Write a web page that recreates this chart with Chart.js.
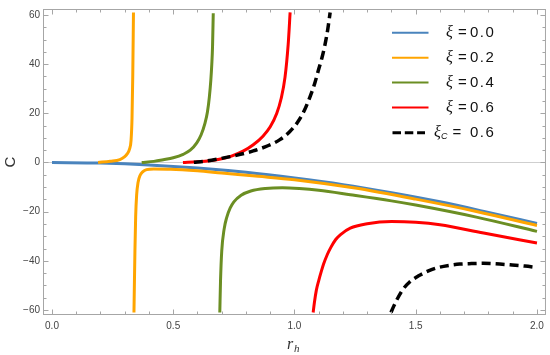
<!DOCTYPE html>
<html><head><meta charset="utf-8">
<script src="https://cdn.jsdelivr.net/npm/chart.js@4.4.1/dist/chart.umd.min.js"></script>
<style>html,body{margin:0;padding:0;background:#fff;}</style>
</head><body>
<canvas id="c" width="550" height="355"></canvas>
<script>
// ---------- data ----------
const xi00_r = [0, 0.2, 0.4, 0.6, 0.8, 1.0, 1.2, 1.4, 1.6, 1.8, 2.0];
const xi00_C = [0, -0.25, -1.0, -2.25, -4.0, -6.3, -9.0, -12.3, -16.0, -20.3, -24.8];

const xi02_upper_r = [0.19, 0.24, 0.28, 0.30, 0.31, 0.32, 0.326, 0.330, 0.333, 0.336];
const xi02_upper_C = [0, 0.5, 1.2, 2.4, 3.5, 5.5, 9, 18, 35, 61];
const xi02_lower_r = [0.338, 0.340, 0.342, 0.345, 0.349, 0.355, 0.363, 0.375, 0.39, 0.42, 0.49, 0.6, 0.7, 0.85, 1.0, 1.25, 1.5, 1.75, 2.0];
const xi02_lower_C = [-61, -48, -36, -22, -13.3, -8, -5.3, -3.7, -2.9, -2.6, -2.7, -3.4, -4.3, -5.6, -7.0, -10.4, -14.9, -19.9, -25.6];

const xi04_upper_r = [0.37, 0.42, 0.459, 0.50, 0.541, 0.57, 0.597, 0.615, 0.631, 0.641, 0.649, 0.655, 0.659, 0.662, 0.665];
const xi04_upper_C = [0, 0.45, 1.1, 1.9, 3.3, 5.0, 8.0, 11.3, 16, 20.5, 26.7, 33.5, 40, 47, 60.7];
const xi04_lower_r = [0.692, 0.695, 0.70, 0.71, 0.72, 0.735, 0.75, 0.78, 0.82, 0.88, 0.95, 1.02, 1.1, 1.23, 1.4, 1.5, 1.75, 2.0];
const xi04_lower_C = [-61, -48, -36, -27, -22.5, -18.5, -16, -13.3, -11.6, -10.6, -10.3, -10.6, -11.3, -13.1, -15.6, -17.3, -22.2, -28];

const xi06_upper_r = [0.54, 0.60, 0.65, 0.69, 0.74, 0.79, 0.83, 0.87, 0.90, 0.927, 0.945, 0.961, 0.974, 0.982];
const xi06_upper_C = [0, 0.3, 0.7, 1.3, 2.6, 4.7, 7.2, 10.7, 14.5, 20, 26, 34.7, 48, 61];
const xi06_lower_r = [1.077, 1.082, 1.09, 1.10, 1.11, 1.12, 1.135, 1.15, 1.17, 1.19, 1.23, 1.30, 1.40, 1.50, 1.60, 1.78, 2.0];
const xi06_lower_C = [-61, -57, -52, -48, -44.5, -41.3, -37.5, -34.5, -31.3, -29.3, -26.7, -24.9, -24.0, -24.3, -25.3, -28.7, -32.7];

const xic06_upper_r = [0.585, 0.63, 0.69, 0.76, 0.83, 0.89, 0.94, 0.98, 1.01, 1.04, 1.064, 1.083, 1.098, 1.113, 1.126, 1.137, 1.147];
const xic06_upper_C = [0.1, 0.5, 1.5, 2.9, 4.7, 6.8, 9.3, 12.5, 16, 21, 26.7, 32, 37.3, 42.5, 48, 54, 61];
const xic06_lower_r = [1.398, 1.41, 1.425, 1.448, 1.475, 1.51, 1.55, 1.593, 1.64, 1.682, 1.73, 1.778, 1.83, 1.889, 1.95, 2.0];
const xic06_lower_C = [-61, -58.3, -55.3, -51.5, -48.6, -46.2, -44.2, -42.7, -41.8, -41.3, -41.1, -41.0, -41.2, -41.6, -42.1, -42.7];

const legendNames = ['0.0', '0.2', '0.4', '0.6', '0.6'];

const xMajorTicks = [0, 0.5, 1.0, 1.5, 2.0];
const xTickLabels = ['0.0', '0.5', '1.0', '1.5', '2.0'];
const xMinorTicks = [0.1, 0.2, 0.3, 0.4, 0.6, 0.7, 0.8, 0.9, 1.1, 1.2, 1.3, 1.4, 1.6, 1.7, 1.8, 1.9];
const yMajorTicks = [-60, -40, -20, 0, 20, 40, 60];
const yTickLabels = ['\u221260', '\u221240', '\u221220', '0', '20', '40', '60'];
const yMinorTicks = [-55, -50, -45, -35, -30, -25, -15, -10, -5, 5, 10, 15, 25, 30, 35, 45, 50, 55];
const xRange = [-0.033, 2.033];
const yRange = [-61.6, 62];

// ---------- build ----------
function pts(r, c) { return r.map((v, i) => ({x: v, y: c[i]})); }
function branches(ur, uc, lr, lc) {
  const gap = {x: (ur[ur.length - 1] + lr[0]) / 2, y: null};
  return pts(ur, uc).concat([gap], pts(lr, lc));
}
const colors = ['#4a84bd', '#ffa500', '#6b8e23', '#ff0000', '#000000'];
const common = {pointRadius: 0, borderWidth: 3, fill: false, spanGaps: false, cubicInterpolationMode: 'monotone'};
const datasets = [
  Object.assign({label: 'xi=0.0', data: pts(xi00_r, xi00_C), borderColor: colors[0], order: 5}, common),
  Object.assign({label: 'xi=0.2', data: branches(xi02_upper_r, xi02_upper_C, xi02_lower_r, xi02_lower_C), borderColor: colors[1], order: 4}, common),
  Object.assign({label: 'xi=0.4', data: branches(xi04_upper_r, xi04_upper_C, xi04_lower_r, xi04_lower_C), borderColor: colors[2], order: 3}, common),
  Object.assign({label: 'xi=0.6', data: branches(xi06_upper_r, xi06_upper_C, xi06_lower_r, xi06_lower_C), borderColor: colors[3], order: 2}, common),
  Object.assign({label: 'xic=0.6', data: branches(xic06_upper_r, xic06_upper_C, xic06_lower_r, xic06_lower_C), borderColor: colors[4], order: 1}, common, {borderDash: [9, 5], borderWidth: 3.5})
];

const framePlugin = {
  id: 'frame',
  beforeDatasetsDraw(chart) {
    const {ctx, chartArea: a, scales: {y}} = chart;
    const py = Math.round(y.getPixelForValue(0)) + 0.5;
    ctx.save();
    ctx.strokeStyle = '#cfcfcf'; ctx.lineWidth = 1;
    ctx.beginPath(); ctx.moveTo(a.left, py); ctx.lineTo(a.right, py); ctx.stroke();
    ctx.restore();
  },
  afterDatasetsDraw(chart) {
    const {ctx, chartArea: a, scales: {x, y}} = chart;
    ctx.save();
    ctx.strokeStyle = '#a6a6a6'; ctx.lineWidth = 1;
    const L = a.left - 0.5, R = a.right + 0.5, T = a.top - 0.5, B = a.bottom + 0.5;
    ctx.strokeRect(L, T, R - L, B - T);
    ctx.beginPath();
    const xt = (v, len) => { const p = Math.round(x.getPixelForValue(v)) + 0.5; ctx.moveTo(p, B); ctx.lineTo(p, B - len); ctx.moveTo(p, T); ctx.lineTo(p, T + len); };
    const yt = (v, len) => { const p = Math.round(y.getPixelForValue(v)) + 0.5; ctx.moveTo(L, p); ctx.lineTo(L + len, p); ctx.moveTo(R, p); ctx.lineTo(R - len, p); };
    xMajorTicks.forEach(v => xt(v, 5)); xMinorTicks.forEach(v => xt(v, 3));
    yMajorTicks.forEach(v => yt(v, 5)); yMinorTicks.forEach(v => yt(v, 3));
    ctx.stroke();
    ctx.restore();
  },
  afterDraw(chart) {
    const {ctx, chartArea: a} = chart;
    ctx.save();
    // axis titles
    ctx.fillStyle = '#333';
    ctx.font = '15px "Liberation Sans", Arial, sans-serif';
    ctx.textAlign = 'center'; ctx.textBaseline = 'middle';
    ctx.save(); ctx.translate(11, (a.top + a.bottom) / 2); ctx.rotate(-Math.PI / 2); ctx.fillText('C', 0, 0); ctx.restore();
    ctx.font = 'italic 16px "Liberation Serif", "Times New Roman", serif';
    ctx.textAlign = 'left'; ctx.textBaseline = 'alphabetic';
    ctx.fillText('r', 287, 349);
    ctx.font = 'italic 11px "Liberation Serif", "Times New Roman", serif';
    ctx.fillText('h', 294, 352);
    // legend
    const rowsY = [32.7, 57.7, 82.5, 107.5, 132.7];
    rowsY.forEach((ry, i) => {
      ctx.beginPath();
      ctx.strokeStyle = colors[i];
      if (i === 4) { ctx.setLineDash([8.5, 3.8]); ctx.lineWidth = 3; ctx.moveTo(392.5, ry); ctx.lineTo(425, ry); }
      else { ctx.setLineDash([]); ctx.lineWidth = 2; ctx.moveTo(392, ry); ctx.lineTo(428.5, ry); }
      ctx.stroke();
      ctx.setLineDash([]);
      ctx.fillStyle = '#111';
      ctx.textBaseline = 'middle';
      ctx.font = '15px "Liberation Sans", Arial, sans-serif';
      ctx.letterSpacing = '1.5px';
      ctx.textAlign = 'left';
      ctx.fillText(legendNames[i], 470, ry);
      ctx.letterSpacing = '0px';
      ctx.textAlign = 'center';
      ctx.fillText('=', i === 4 ? 457 : 462.5, ry);
      ctx.textAlign = 'left';
      ctx.font = 'italic 16px "Liberation Serif", "Times New Roman", serif';
      if (i === 4) {
        ctx.fillText('\u03BE', 434, ry + 0.5);
        ctx.font = 'italic 9px "Liberation Sans", Arial, sans-serif';
        ctx.fillText('C', 441, ry + 3.5);
      } else {
        ctx.fillText('\u03BE', 446, ry + 0.5);
      }
    });
    ctx.restore();
  }
};

new Chart(document.getElementById('c'), {
  type: 'line',
  data: {datasets},
  options: {
    responsive: false, animation: false, devicePixelRatio: 1,
    layout: {padding: {top: 5, right: 5, left: 0, bottom: 0}},
    plugins: {legend: {display: false}, tooltip: {enabled: false}},
    scales: {
      x: {
        type: 'linear', min: xRange[0], max: xRange[1],
        grid: {display: false, drawTicks: false}, border: {display: false},
        afterBuildTicks: s => { s.ticks = xMajorTicks.map(v => ({value: v})); },
        afterFit: s => { s.height = 41; },
        ticks: {autoSkip: false, maxRotation: 0, padding: 6, color: '#444',
          font: {size: 10, family: '"Liberation Sans", Arial, sans-serif'},
          callback: v => { const i = xMajorTicks.indexOf(v); return i >= 0 ? xTickLabels[i] : ''; }}
      },
      y: {
        type: 'linear', min: yRange[0], max: yRange[1],
        grid: {display: false, drawTicks: false}, border: {display: false},
        afterBuildTicks: s => { s.ticks = yMajorTicks.map(v => ({value: v})); },
        afterFit: s => { s.width = 44; },
        ticks: {autoSkip: false, padding: 4, color: '#444',
          font: {size: 10, family: '"Liberation Sans", Arial, sans-serif'},
          callback: v => { const i = yMajorTicks.indexOf(v); return i >= 0 ? yTickLabels[i] : ''; }}
      }
    }
  },
  plugins: [framePlugin]
});
</script>
</body></html>
